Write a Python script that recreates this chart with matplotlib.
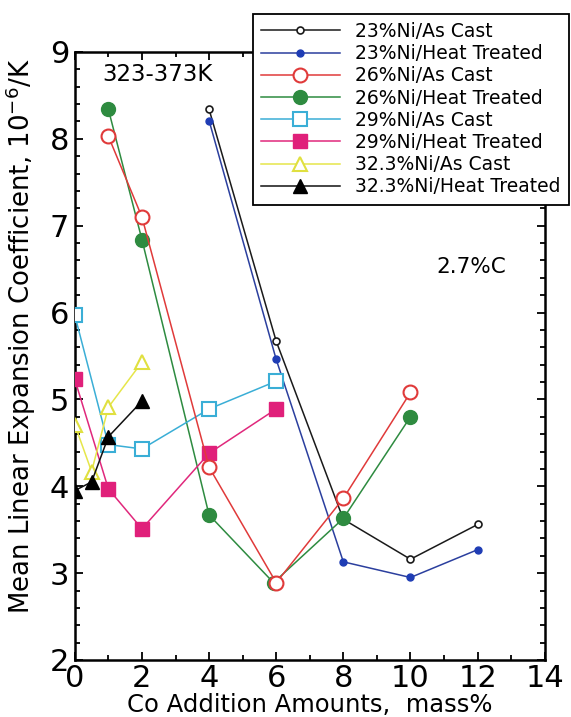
import matplotlib
matplotlib.use("Agg")
import matplotlib.pyplot as plt
from matplotlib.ticker import MultipleLocator

plt.rcParams['font.family'] = ['DejaVu Sans']
plt.rcParams['mathtext.fontset'] = 'dejavusans'

# data (Co mass%, CTE 10^-6/K)
x23 = [4, 6, 8, 10, 12]
ni23_cast = [8.34, 5.67, 3.62, 3.16, 3.56]
ni23_ht = [8.21, 5.46, 3.13, 2.95, 3.27]

x26_cast = [1, 2, 4, 6, 8, 10]
ni26_cast = [8.03, 7.10, 4.22, 2.89, 3.86, 5.08]
x26_ht = [1, 2, 4, 5.92, 8, 10]
ni26_ht = [8.34, 6.84, 3.67, 2.89, 3.63, 4.80]

x29 = [0, 1, 2, 4, 6]
ni29_cast = [5.97, 4.48, 4.43, 4.89, 5.21]
ni29_ht = [5.23, 3.97, 3.51, 4.38, 4.89]

x32 = [0, 0.5, 1, 2]
ni32_cast = [4.71, 4.17, 4.91, 5.43]
ni32_ht = [3.95, 4.05, 4.57, 4.98]

fig = plt.figure(figsize=(5.71, 7.17), dpi=100)
ax = fig.add_axes([0.131, 0.0795, 0.823, 0.848])

# --- series ---
ax.plot(x23, ni23_cast, '-o', color='#1a1a1a', lw=1.1, ms=5, mfc='white', mec='#1a1a1a', mew=1.2,
        label='23%Ni/As Cast', zorder=2)
ax.plot(x23, ni23_ht, '-o', color='#2b3f9e', lw=1.1, ms=5, mfc='#1f3db5', mec='#1f3db5',
        label='23%Ni/Heat Treated', zorder=2)
ax.plot(x26_cast, ni26_cast, '-o', color='#e03a3a', lw=1.1, ms=10, mfc='white', mec='#e03a3a', mew=1.5,
        label='26%Ni/As Cast', zorder=4)
ax.plot(x26_ht, ni26_ht, '-o', color='#2e8b40', lw=1.1, ms=10, mfc='#2e8b40', mec='#2e8b40',
        label='26%Ni/Heat Treated', zorder=3)
ax.plot(x29, ni29_cast, '-s', color='#3aaed6', lw=1.1, ms=10, mfc='white', mec='#3aaed6', mew=1.5,
        label='29%Ni/As Cast', zorder=3)
ax.plot(x29, ni29_ht, '-s', color='#e0287c', lw=1.1, ms=10, mfc='#e0207a', mec='#e0207a',
        label='29%Ni/Heat Treated', zorder=3)
ax.plot(x32, ni32_cast, '-^', color='#e6e64a', lw=1.1, ms=10, mfc='white', mec='#e0e040', mew=1.5,
        label='32.3%Ni/As Cast', zorder=3)
ax.plot(x32, ni32_ht, '-^', color='#111111', lw=1.1, ms=10, mfc='black', mec='black',
        label='32.3%Ni/Heat Treated', zorder=3)

# --- axes ---
ax.set_xlim(0, 14)
ax.set_ylim(2, 9)
ax.xaxis.set_major_locator(MultipleLocator(2))
ax.xaxis.set_minor_locator(MultipleLocator(1))
ax.yaxis.set_major_locator(MultipleLocator(1))
ax.yaxis.set_minor_locator(MultipleLocator(0.2))
ax.tick_params(which='both', direction='in', top=True, right=True, width=1.3, labelsize=22)
ax.tick_params(axis='x', pad=3)
ax.tick_params(axis='y', pad=4)
ax.tick_params(which='major', length=6)
ax.tick_params(which='minor', length=3.5)
for s in ax.spines.values():
    s.set_linewidth(1.8)

ax.set_xlabel('Co Addition Amounts,  mass%', fontsize=17.5, labelpad=0)
ax.set_ylabel('Mean Linear Expansion Coefficient, 10$^{-6}$/K', fontsize=18.7)
ax.yaxis.set_label_coords(-0.079, 0.533)

ax.text(2.45, 8.74, '323-373K', fontsize=16.5, ha='center', va='center')
ax.text(11.8, 6.53, '2.7%C', fontsize=15.5, ha='center', va='center')

leg = ax.legend(loc='upper right', bbox_to_anchor=(0.996, 0.981), bbox_transform=fig.transFigure,
                borderaxespad=0, fontsize=13.5, handlelength=4.2, labelspacing=0.17,
                handletextpad=0.8, borderpad=0.45, fancybox=False, framealpha=1)
leg.get_frame().set_edgecolor('black')
leg.get_frame().set_linewidth(1.3)
leg.set_zorder(10)

plt.savefig('out.png', dpi=100)
